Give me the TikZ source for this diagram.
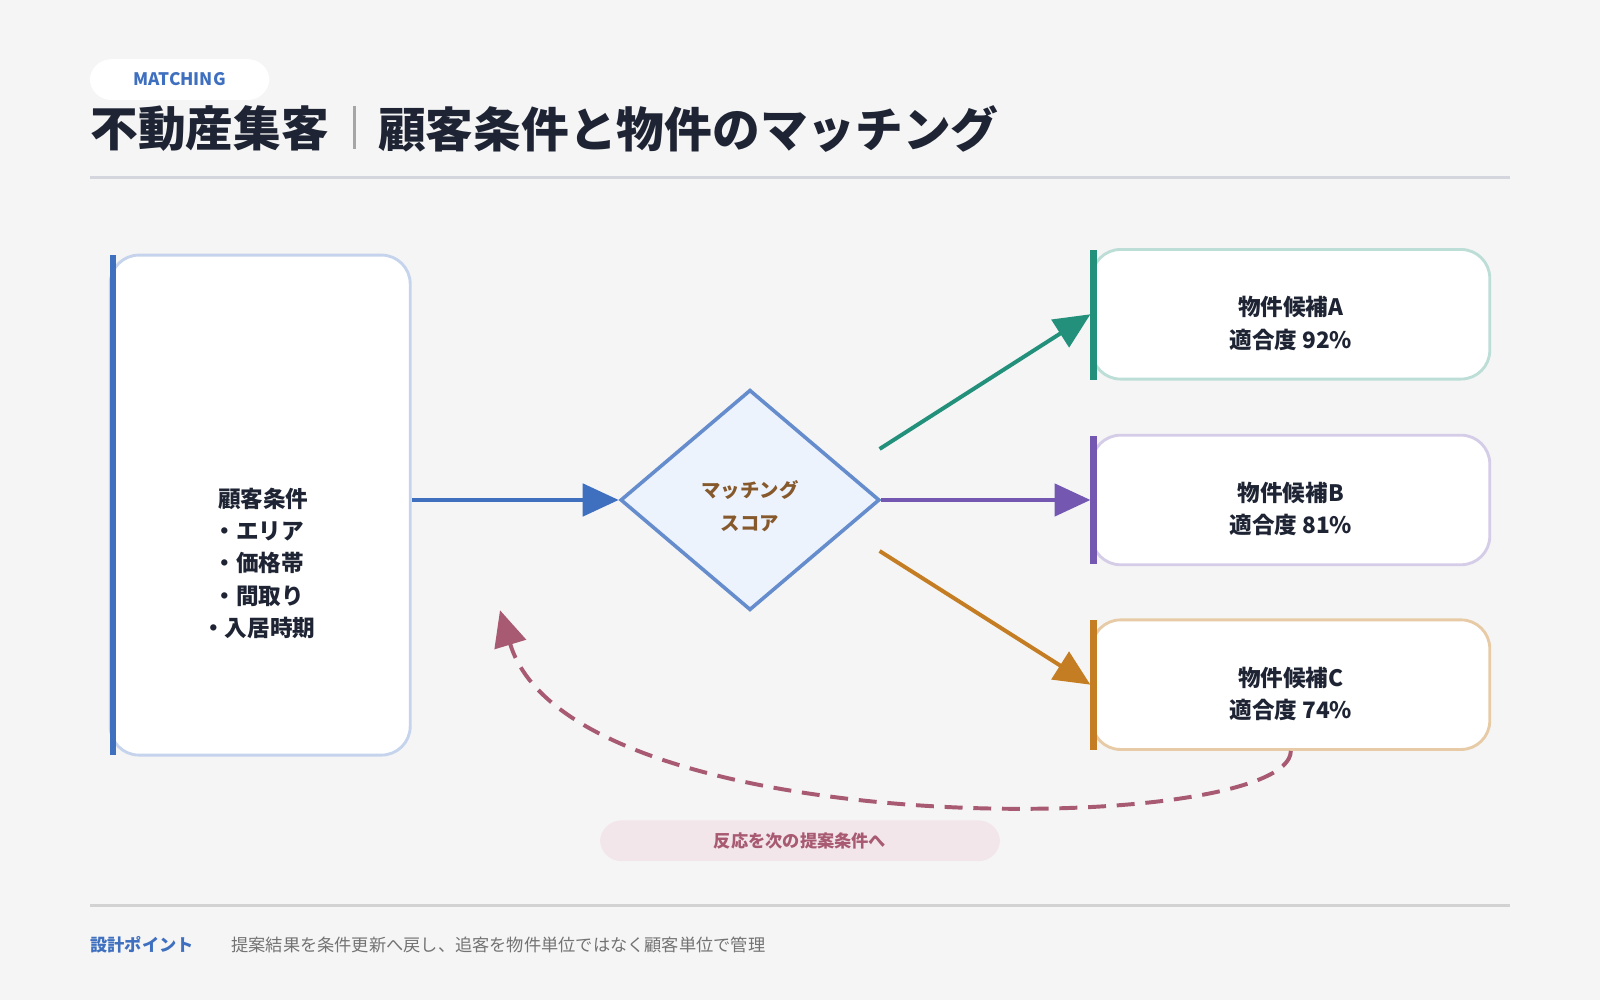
\documentclass[tikz,border=0pt]{standalone}
\usepackage{fontspec}
\setmainfont{Noto Sans CJK JP}
\usetikzlibrary{positioning,shapes.geometric,arrows.meta}
\definecolor{bgc}{HTML}{F5F5F5}
\definecolor{ink}{HTML}{1E2433}
\definecolor{blu}{HTML}{3F6FBF}
\definecolor{teal}{HTML}{22907A}
\definecolor{purp}{HTML}{7357B0}
\definecolor{oran}{HTML}{C47D22}
\definecolor{rose}{HTML}{A85A72}
\definecolor{dfill}{HTML}{EDF3FC}
\begin{document}
\begin{tikzpicture}[x=0.01cm,y=-0.01cm,
                    card/.style={rectangle, rounded corners=8pt, fill=white, line width=0.8pt, inner sep=0pt},
                    cardtext/.style={font=\fontsize{6.3}{9}\selectfont\bfseries, text=ink, align=center},
                    pill/.style={rectangle, rounded corners=6pt, inner sep=0pt, font=\fontsize{4.8}{6}\selectfont\bfseries},
                    link/.style={line width=1.1pt, -{Triangle[length=10pt,width=9pt]}},
                ]
                % Background
                \fill[bgc] (0,0) rectangle (1568,980);
                \useasboundingbox (0,0) rectangle (1568,980);

                % Header
                \node[pill, fill=white, minimum width=176*0.01cm, minimum height=40*0.01cm, text=blu] (tag) at (176,78) {MATCHING};
                \node[anchor=west, inner sep=0pt, font=\fontsize{13.3}{16}\selectfont\bfseries, text=ink] (title_l) at (88,126) {不動産集客};
                \node[anchor=west, inner sep=0pt, font=\fontsize{13.3}{16}\selectfont\bfseries, text=ink] (title_r) at (370,126) {顧客条件と物件のマッチング};
                \draw[gray!70, line width=0.8pt] (347,104) -- (347,146);
                \draw[blue!10!gray!30, line width=0.8pt] (88,174) -- (1480,174);

                % Nodes
                \node[card, draw=blu!30, minimum width=294*0.01cm, minimum height=490*0.01cm] (cond) at (255,495) {};
                \fill[blu] (108,250) rectangle (114,740);
                \node[cardtext, text width=2.2cm] (cond_txt) at (258,552) {顧客条件\\\hspace*{-0.4em}・エリア\\\hspace*{-0.4em}・価格帯\\\hspace*{-0.4em}・間取り\\\hspace*{-0.4em}・入居時期};

                \node[diamond, draw=blu!80!white, fill=dfill, line width=1pt, minimum width=254*0.01cm, minimum height=216*0.01cm, inner sep=0pt,
                      font=\fontsize{5.4}{9}\selectfont\bfseries, text=brown!70!black, align=center] (score) at (735,490) {};
                \node[font=\fontsize{5.4}{9}\selectfont\bfseries, text=brown!70!black, align=center] (score_txt) at (735,496) {マッチング\\スコア};

                \node[card, draw=teal!30, minimum width=390*0.01cm, minimum height=127*0.01cm] (prop_a) at (1265,308) {};
                \fill[teal] (1068,245) rectangle (1075,372);
                \node[cardtext] (prop_a_txt) at (1265,317) {物件候補A\\適合度 92\%};
                \node[card, draw=purp!30, minimum width=390*0.01cm, minimum height=127*0.01cm] (prop_b) at (1265,490) {};
                \fill[purp] (1068,427) rectangle (1075,553);
                \node[cardtext] (prop_b_txt) at (1265,499) {物件候補B\\適合度 81\%};
                \node[card, draw=oran!40, minimum width=390*0.01cm, minimum height=127*0.01cm] (prop_c) at (1265,671) {};
                \fill[oran] (1068,608) rectangle (1075,735);
                \node[cardtext] (prop_c_txt) at (1265,680) {物件候補C\\適合度 74\%};

                \coordinate (sc_a) at (862,440);
                \coordinate (sc_c) at (862,540);
                \coordinate (fb_end) at (490,598);

                %Lines
                \draw[link, blu] (cond.east |- score.west) -- (score.west);
                \draw[link, teal] (sc_a) -- (prop_a.west);
                \draw[link, purp] (score.east) -- (prop_b.west);
                \draw[link, oran] (sc_c) -- (prop_c.west);
                \draw[rose, line width=1.1pt, dash pattern=on 5pt off 3pt, -{Triangle[length=10pt,width=9pt]}]
                      (prop_c.south) .. controls (1265,820) and (560,830) .. (fb_end);

                % Footer
                \node[pill, fill=rose!15, minimum width=392*0.01cm, minimum height=40*0.01cm, text=rose] (fb_tag) at (784,824) {反応を次の提案条件へ};
                \draw[gray!35, line width=0.8pt] (88,887) -- (1480,887);
                \node[anchor=west, inner sep=0pt, font=\fontsize{4.8}{6}\selectfont\bfseries, text=blu] (pt_head) at (88,926) {設計ポイント};
                \node[anchor=west, inner sep=0pt, font=\fontsize{4.8}{6}\selectfont, text=gray!90!black] (pt_body) at (226,926) {提案結果を条件更新へ戻し、追客を物件単位ではなく顧客単位で管理};
\end{tikzpicture}
\end{document}
